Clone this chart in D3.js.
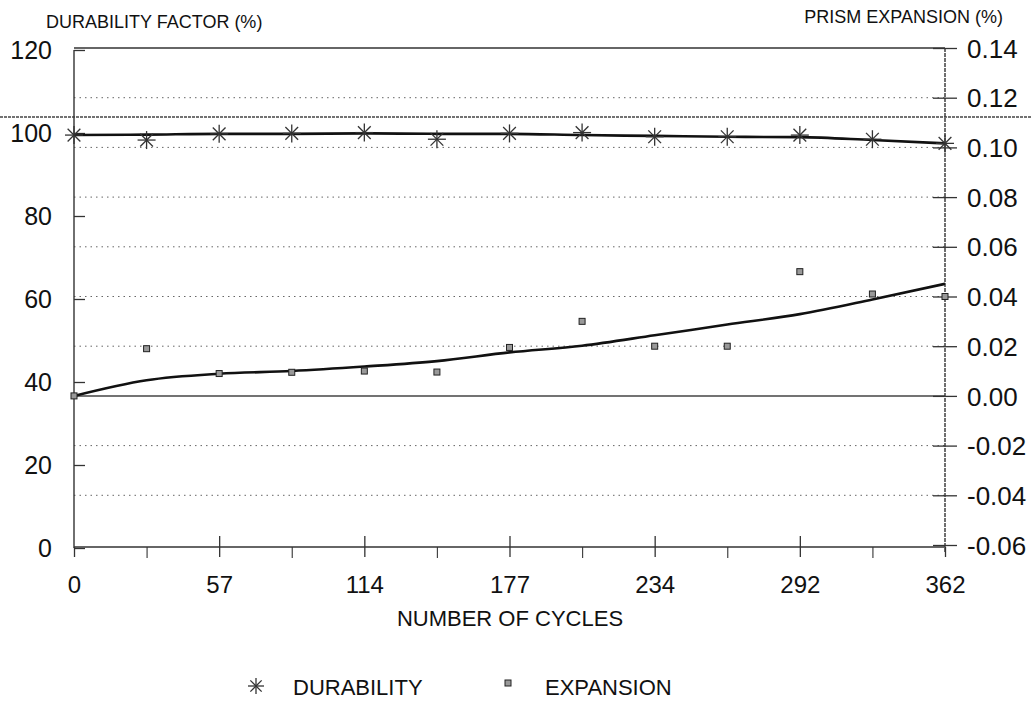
<!DOCTYPE html>
<html>
<head>
<meta charset="utf-8">
<script src="https://cdn.jsdelivr.net/npm/d3@7"></script>
<style>
    body { margin: 0; background: #fff; }
    svg text { font-family: "Liberation Sans", Arial, sans-serif; fill: #111; }
</style>
</head>
<body>
<div id="chart"></div>
<script>
// Freeze-thaw test: durability factor and prism expansion vs. cycles

// x positions: 13 test readings, equally spaced
const readings = [0, 1, 2, 3, 4, 5, 6, 7, 8, 9, 10, 11, 12];
const cycleLabels = ['0', '57', '114', '177', '234', '292', '362'];

// durability factor (%), left axis
const durability = [99.5, 98.3, 99.8, 99.9, 100.1, 98.5, 99.9, 100.1, 99.1, 99.1, 99.5, 98.5, 97.5];
const durabilityFit = [99.5, 99.6, 99.8, 99.8, 99.9, 99.8, 99.8, 99.5, 99.3, 99.1, 99.0, 98.3, 97.5];

// prism expansion (%), right axis
const expansion = [0.000, 0.019, 0.009, 0.0095, 0.010, 0.0096, 0.0195, 0.030, 0.020, 0.020, 0.050, 0.041, 0.040];
const expansionFit = [0.000, 0.0063, 0.0089, 0.0100, 0.0118, 0.0140, 0.0175, 0.0202, 0.0244, 0.0287, 0.0329, 0.0388, 0.0451];

const leftTicks = [0, 20, 40, 60, 80, 100, 120];
const rightTicks = [-0.06, -0.04, -0.02, 0.00, 0.02, 0.04, 0.06, 0.08, 0.10, 0.12, 0.14];

const width = 1032, height = 704;
const plot = {left: 74, right: 945, top: 49, bottom: 547};

const svg = d3.select('#chart').append('svg')
    .attr('width', width)
    .attr('height', height);

const x = d3.scaleLinear()
    .domain([0, 12])
    .range([plot.left, plot.right]);

const yLeft = d3.scaleLinear()
    .domain([0, 120])
    .range([548, 50]);

const yRight = d3.scaleLinear()
    .domain([-0.06, 0.14])
    .range([545, 48]);

// dotted grid on the expansion ticks
const gridVals = rightTicks.filter(d => ![-0.06, 0, 0.14].includes(d));
svg.append('g')
    .selectAll('line')
    .data(gridVals)
  .enter().append('line')
    .attr('x1', plot.left)
    .attr('x2', plot.right)
    .attr('y1', d => yRight(d))
    .attr('y2', d => yRight(d))
    .style('stroke', '#666')
    .style('stroke-width', 1)
    .style('stroke-dasharray', '1.5,4');

// solid zero line + top frame
svg.append('line')
    .attr('x1', plot.left).attr('x2', plot.right)
    .attr('y1', yRight(0)).attr('y2', yRight(0))
    .style('stroke', '#444').style('stroke-width', 1.5);

svg.append('line')
    .attr('x1', plot.left).attr('x2', plot.right)
    .attr('y1', yRight(0.14)).attr('y2', yRight(0.14))
    .style('stroke', '#333').style('stroke-width', 1.3);

// crease line running across the scanned page
svg.append('line')
    .attr('x1', 0).attr('x2', width)
    .attr('y1', 117).attr('y2', 117)
    .style('stroke', '#444')
    .style('stroke-width', 1.3)
    .style('stroke-dasharray', '3,1');

// left axis
const leftAxis = svg.append('g')
    .attr('transform', `translate(${plot.left},0)`)
    .call(d3.axisLeft(yLeft).tickValues(leftTicks).tickSize(11).tickPadding(11));
leftAxis.select('.domain').remove();
leftAxis.selectAll('.tick line').attr('x2', 11).style('stroke', '#333').style('stroke-width', 1.3);
leftAxis.selectAll('.tick text').style('font-size', '25px').attr('dy', '0.35em');
leftAxis.append('line')
    .attr('y1', 50).attr('y2', 548)
    .style('stroke', '#333').style('stroke-width', 1.4);

// right axis
const rightAxis = svg.append('g')
    .attr('transform', `translate(${plot.right},0)`)
    .call(d3.axisRight(yRight).tickValues(rightTicks).tickSize(12).tickPadding(10)
        .tickFormat(d => d.toFixed(2)));
rightAxis.select('.domain').remove();
rightAxis.selectAll('.tick line').attr('x1', -12).style('stroke', '#333').style('stroke-width', 1.3);
rightAxis.selectAll('.tick text').style('font-size', '26px').attr('dy', '0.35em');
rightAxis.append('line')
    .attr('y1', 48).attr('y2', 552)
    .style('stroke', '#333').style('stroke-width', 1.4)
    .style('stroke-dasharray', '4,1');

// bottom axis: labelled major ticks crossing the line, minor ticks below
const bottomAxis = svg.append('g')
    .attr('transform', `translate(0,${plot.bottom})`)
    .call(d3.axisBottom(x).tickValues([0, 2, 4, 6, 8, 10, 12]).tickSize(10).tickPadding(36)
        .tickFormat(d => cycleLabels[d / 2]));
bottomAxis.select('.domain').remove();
bottomAxis.selectAll('.tick line')
    .attr('y1', d => (d === 0 || d === 12) ? 0 : -11)
    .style('stroke', '#333').style('stroke-width', 1.3);
bottomAxis.selectAll('.tick text').style('font-size', '24px').attr('dy', '0');

const minorAxis = svg.append('g')
    .attr('transform', `translate(0,${plot.bottom})`)
    .call(d3.axisBottom(x).tickValues([1, 3, 5, 7, 9, 11]).tickSize(11).tickFormat(''));
minorAxis.select('.domain').remove();
minorAxis.selectAll('.tick line').style('stroke', '#444').style('stroke-width', 1.2);

svg.append('line')
    .attr('x1', plot.left).attr('x2', plot.right)
    .attr('y1', plot.bottom).attr('y2', plot.bottom)
    .style('stroke', '#333').style('stroke-width', 1.4);

// axis titles
svg.append('text')
    .attr('x', 46).attr('y', 28)
    .style('font-size', '18px')
    .text('DURABILITY FACTOR (%)');

svg.append('text')
    .attr('x', 1003).attr('y', 23)
    .attr('text-anchor', 'end')
    .style('font-size', '18px')
    .text('PRISM EXPANSION (%)');

svg.append('text')
    .attr('x', 510).attr('y', 626)
    .attr('text-anchor', 'middle')
    .style('font-size', '22px')
    .text('NUMBER OF CYCLES');

// fitted curves
const fitLine = (yScale) => d3.line()
    .x((d, i) => x(readings[i]))
    .y(d => yScale(d))
    .curve(d3.curveMonotoneX);

svg.append('path')
    .datum(durabilityFit)
    .attr('d', fitLine(yLeft))
    .style('fill', 'none')
    .style('stroke', '#111')
    .style('stroke-width', 2.6);

svg.append('path')
    .datum(expansionFit)
    .attr('d', fitLine(yRight))
    .style('fill', 'none')
    .style('stroke', '#111')
    .style('stroke-width', 2.6);

// asterisk marker: 8 spokes
function asterisk(g, r) {
    [0, 45, 90, 135].forEach(a => {
        const rad = a * Math.PI / 180;
        g.append('line')
            .attr('x1', -r * Math.cos(rad)).attr('y1', -r * Math.sin(rad))
            .attr('x2', r * Math.cos(rad)).attr('y2', r * Math.sin(rad))
            .style('stroke', '#333')
            .style('stroke-width', 1.3);
    });
}

svg.append('g')
    .selectAll('g')
    .data(durability)
  .enter().append('g')
    .attr('transform', (d, i) => `translate(${x(readings[i])},${yLeft(d)})`)
    .each(function() { asterisk(d3.select(this), 9); });

svg.append('g')
    .selectAll('rect')
    .data(expansion)
  .enter().append('rect')
    .attr('x', (d, i) => x(readings[i]) - 3)
    .attr('y', d => yRight(d) - 3)
    .attr('width', 6)
    .attr('height', 6)
    .style('fill', '#999')
    .style('stroke', '#222')
    .style('stroke-width', 1);

// legend
const legend = svg.append('g');
const star = legend.append('g').attr('transform', 'translate(256,686)');
asterisk(star, 8);
legend.append('text')
    .attr('x', 293).attr('y', 695)
    .style('font-size', '22px')
    .text('DURABILITY');

legend.append('rect')
    .attr('x', 505).attr('y', 680)
    .attr('width', 6).attr('height', 6)
    .style('fill', '#999')
    .style('stroke', '#222')
    .style('stroke-width', 1);
legend.append('text')
    .attr('x', 545).attr('y', 695)
    .style('font-size', '22px')
    .text('EXPANSION');
</script>
</body>
</html>
